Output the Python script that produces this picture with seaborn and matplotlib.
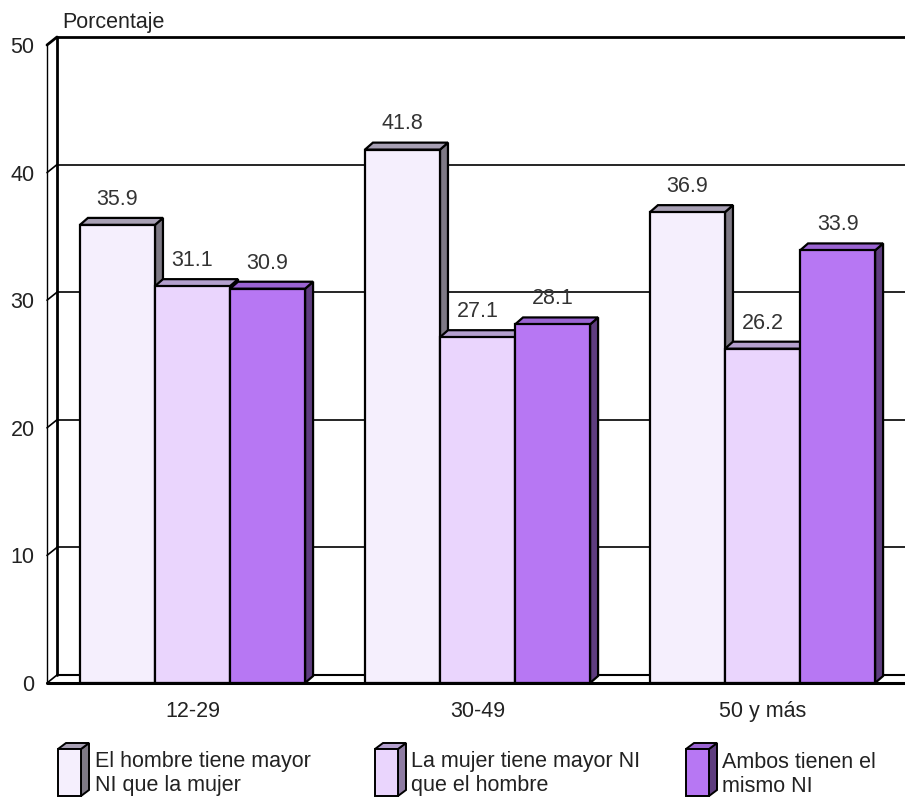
import numpy as np
import pandas as pd
import matplotlib
matplotlib.use("Agg")
import matplotlib.pyplot as plt
from matplotlib.patches import Polygon
import seaborn as sns

# ---- data ----
groups = ["12-29", "30-49", "50 y más"]
series = ["El hombre tiene mayor\nNI que la mujer",
          "La mujer tiene mayor NI\nque el hombre",
          "Ambos tienen el\nmismo NI"]
v_hombre = [35.9, 41.8, 36.9]
v_mujer = [31.1, 27.1, 26.2]
v_ambos = [30.9, 28.1, 33.9]
yticks = [0, 10, 20, 30, 40, 50]
ylabel = "Porcentaje"

face_colors = ["#F5EFFD", "#EAD5FD", "#B777F3"]
top_colors = ["#A8A0B4", "#B4A0CE", "#9B64D2"]
side_colors = ["#7E7985", "#8E7CA2", "#5E3D7F"]

df = pd.DataFrame({
    "grupo": groups * 3,
    "serie": [series[0]] * 3 + [series[1]] * 3 + [series[2]] * 3,
    "valor": v_hombre + v_mujer + v_ambos,
})

sns.set_theme(style="white")
plt.rcParams["font.family"] = ["Liberation Sans", "DejaVu Sans"]
FS = 15.5

W, H = 905, 798
fig = plt.figure(figsize=(W / 100, H / 100), dpi=100)
ax_l, ax_r, ax_t, ax_b = 47, 905, 45, 683
ax = fig.add_axes([ax_l / W, (H - ax_b) / H, (ax_r - ax_l) / W, (ax_b - ax_t) / H])

sns.barplot(data=df, x="grupo", y="valor", hue="serie", palette=face_colors,
            width=0.79, edgecolor="black", linewidth=1.6, legend=False,
            ax=ax, saturation=1)
XMIN, XMAX = -0.5105, 2.5
ax.set_xlim(XMIN, XMAX)
ax.set_ylim(0, 50)

pxx = (XMAX - XMIN) / (ax_r - ax_l)   # data units per pixel (x)
pxy = 50.0 / (ax_b - ax_t)            # data units per pixel (y)

# depth offsets
bdx, bdy = 8 * pxx, 7 * pxy     # bars
wdx, wdy = 10 * pxx, 8 * pxy    # walls

# floor
floor = Polygon([(XMIN, 0), (3.0, 0), (3.0 + wdx, wdy), (XMIN + wdx, wdy)],
                closed=True, facecolor="white", edgecolor="none", zorder=1, clip_on=False)
ax.add_patch(floor)
ax.plot([XMIN + wdx, 3.0], [wdy, wdy], color="black", lw=1.5, zorder=1.5, clip_on=False)
ax.plot([XMIN, 3.0], [0, 0], color="black", lw=2.2, zorder=30, clip_on=False)

# left wall
wall = Polygon([(XMIN, 0), (XMIN, 50), (XMIN + wdx, 50 + wdy), (XMIN + wdx, wdy)],
               closed=True, facecolor="white", edgecolor="none", zorder=1, clip_on=False)
ax.add_patch(wall)
ax.plot([XMIN, XMIN], [0, 50], color="black", lw=1.0, zorder=2, clip_on=False)
ax.plot([XMIN + wdx, XMIN + wdx], [wdy, 50 + wdy], color="black", lw=2.0, zorder=2, clip_on=False)

# grid lines (back wall) + diagonals on the left wall
for v in yticks:
    lw = 2.0 if v == 50 else 1.2
    ax.plot([XMIN, XMIN + wdx], [v, v + wdy], color="black", lw=lw, zorder=2, clip_on=False)
    if v > 0:
        ax.plot([XMIN + wdx, 3.0], [v + wdy, v + wdy], color="black", lw=lw, zorder=1.6, clip_on=False)

# 3D bars
for j, cont in enumerate(ax.containers):
    for bar in cont:
        x0, w, h = bar.get_x(), bar.get_width(), bar.get_height()
        bar.set_zorder(10 + 3 * j + 1)
        side = Polygon([(x0 + w, 0), (x0 + w, h), (x0 + w + bdx, h + bdy), (x0 + w + bdx, bdy)],
                       closed=True, facecolor=side_colors[j], edgecolor="black", lw=1.6,
                       zorder=10 + 3 * j, clip_on=False)
        top = Polygon([(x0, h), (x0 + w, h), (x0 + w + bdx, h + bdy), (x0 + bdx, h + bdy)],
                      closed=True, facecolor=top_colors[j], edgecolor="black", lw=1.6,
                      zorder=10 + 3 * j, clip_on=False)
        ax.add_patch(side)
        ax.add_patch(top)
        ax.annotate(f"{h:.1f}", (x0 + w / 2, h), xytext=(0, 14.5), textcoords="offset points",
                    ha="center", va="baseline", fontsize=FS, color="#333333", zorder=40)

for s in ax.spines.values():
    s.set_visible(False)
ax.set_yticks(yticks)
ax.set_yticklabels([str(t) for t in yticks])
ax.tick_params(axis="y", length=0, pad=9, labelsize=FS, labelcolor="#222222")
ax.tick_params(axis="x", length=0, pad=13, labelsize=FS, labelcolor="#222222")
ax.set_xlabel("")
ax.set_ylabel("")
ax.grid(False)
ax.set_facecolor("white")

# overlay for texts/legend in pixel coordinates
lax = fig.add_axes([0, 0, 1, 1], zorder=50)
lax.set_xlim(0, W)
lax.set_ylim(H, 0)
lax.axis("off")
lax.patch.set_alpha(0)

lax.text(62, 28, ylabel, ha="left", va="baseline", fontsize=FS, color="#222222")

icon_x = [58, 375, 686]
text_x = [95, 411, 722]
idx, idy = 8, 6
for j in range(3):
    x0 = icon_x[j]
    y0, y1 = 749, 796
    w = 23
    lax.add_patch(Polygon([(x0 + w, y1), (x0 + w, y0), (x0 + w + idx, y0 - idy), (x0 + w + idx, y1 - idy)],
                          closed=True, facecolor=side_colors[j], edgecolor="black", lw=1.4))
    lax.add_patch(Polygon([(x0, y0), (x0 + w, y0), (x0 + w + idx, y0 - idy), (x0 + idx, y0 - idy)],
                          closed=True, facecolor=top_colors[j], edgecolor="black", lw=1.4))
    lax.add_patch(Polygon([(x0, y0), (x0 + w, y0), (x0 + w, y1), (x0, y1)],
                          closed=True, facecolor=face_colors[j], edgecolor="black", lw=1.4))
    lines = series[j].split("\n")
    for k, line in enumerate(lines):
        lax.text(text_x[j], 762 + 24 * k, line, ha="left", va="center",
                 fontsize=FS, color="#222222")

fig.savefig("out.png", dpi=100, facecolor="white")
